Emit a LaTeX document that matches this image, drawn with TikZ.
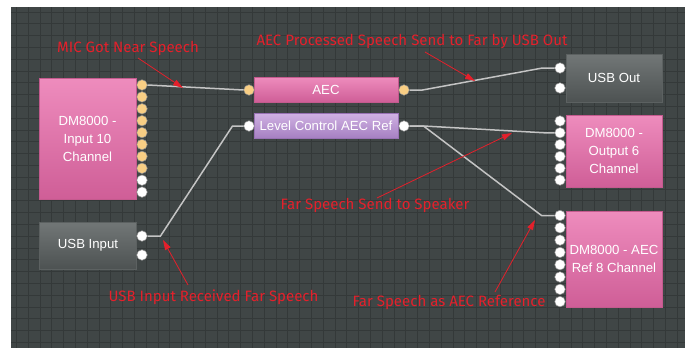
\documentclass[tikz,border=0pt]{standalone}
\usepackage{fontspec}
\setmainfont{Liberation Sans}
\newfontfamily\annfont{Fira Sans}
\usetikzlibrary{arrows.meta,calc}
\definecolor{bgdark}{HTML}{404646}
\definecolor{gridln}{HTML}{343939}
\definecolor{pinkT}{HTML}{EE8CBD}
\definecolor{pinkB}{HTML}{CF5E97}
\definecolor{pinkE}{HTML}{C45A8E}
\definecolor{purT}{HTML}{D0B2E3}
\definecolor{purB}{HTML}{A680C2}
\definecolor{purE}{HTML}{9872B4}
\definecolor{grayT}{HTML}{727777}
\definecolor{grayB}{HTML}{4D5252}
\definecolor{grayE}{HTML}{5C6161}
\definecolor{portO}{HTML}{F8CE84}
\definecolor{portE}{HTML}{8E8E8E}
\definecolor{wire}{HTML}{C4C4C4}
\definecolor{annred}{HTML}{E4202B}
\tikzset{
  blk/.style={rectangle, inner sep=0pt, text=white, align=center,
    font=\fontsize{13.2}{18}\selectfont},
  pinkblk/.style={blk, draw=pinkE, line width=0.8pt, top color=pinkT, bottom color=pinkB},
  purblk/.style={blk, draw=purE, line width=0.8pt, top color=purT, bottom color=purB},
  grayblk/.style={blk, draw=grayE, line width=0.8pt, top color=grayT, bottom color=grayB},
  portw/.style={circle, minimum size=10.5pt, inner sep=0pt, draw=portE, line width=0.5pt, fill=white},
  porto/.style={portw, fill=portO},
  wireln/.style={draw=wire, line width=1.5pt},
  ann/.style={text=annred, inner sep=0pt, font=\annfont\fontsize{15}{17}\selectfont},
  annarrow/.style={draw=annred, line width=0.8pt, -{Triangle[length=10pt,width=6pt]}}
}
\begin{document}
\begin{tikzpicture}[x=1pt,y=-1pt]
\useasboundingbox (0,0) rectangle (691,348);
\fill[white] (0,0) rectangle (691,348);
\fill[bgdark] (11,7) rectangle (685,348);
\begin{scope}
\clip (11,7) rectangle (685,348);
\foreach \i in {0,...,57} {
  \draw[gridln, line width=1pt] (16.5+11.8*\i,7) -- (16.5+11.8*\i,348);
}
\foreach \j in {0,...,29} {
  \draw[gridln, line width=1pt] (11,12+11.8*\j) -- (685,12+11.8*\j);
}
\end{scope}

% blocks
\node[pinkblk, minimum width=97pt, minimum height=121pt] (inbox) at (87.5,138.5) {DM8000 -\\Input 10\\Channel};
\node[grayblk, minimum width=97pt, minimum height=47pt] (usbin) at (88,245.5) {USB Input};
\node[pinkblk, minimum width=144pt, minimum height=25pt] (aec) at (326,89.5) {AEC};
\node[purblk, minimum width=144pt, minimum height=25pt] (lvl) at (326,125.5) {Level Control AEC Ref};
\node[grayblk, minimum width=96pt, minimum height=48pt] (usbout) at (614,78) {USB Out};
\node[pinkblk, minimum width=96pt, minimum height=72pt] (out6) at (614,151) {DM8000 -\\Output 6\\Channel};
\node[pinkblk, minimum width=96pt, minimum height=96pt] (ref8) at (614,259) {DM8000 - AEC\\Ref 8 Channel};

% ports
\foreach \i in {1,...,8} { \node[porto] (in\i) at (142,{85+11.9*(\i-1)}) {}; }
\foreach \i in {9,10} { \node[portw] (in\i) at (142,{85+11.9*(\i-1)}) {}; }
\node[portw] (ui1) at (142,236) {};
\node[portw] (ui2) at (142,255) {};
\node[porto] (aecin) at (249,90) {};
\node[porto] (aecout) at (404,90) {};
\node[portw] (lvin) at (249,126) {};
\node[portw] (lvout) at (404,126) {};
\node[portw] (uo1) at (560,68) {};
\node[portw] (uo2) at (560,88) {};
\foreach \i in {1,...,6} { \node[portw] (o\i) at (560,{121+11.8*(\i-1)}) {}; }
\foreach \i in {1,...,8} { \node[portw] (r\i) at (560,{215.5+12.3*(\i-1)}) {}; }

% wires
\draw[wireln] (in1.east) -- (aecin.west);
\draw[wireln] (aecout.east) -- ++(13,0) -- ($(uo1.west)+(-12,0)$) -- (uo1.west);
\draw[wireln] (ui1.east) -- ++(13,0) -- ($(lvin.west)+(-11,0)$) -- (lvin.west);
\draw[wireln] (lvout.east) -- ++(14,0) -- ($(o2.west)+(-10,0)$) -- (o2.west);
\draw[wireln] (lvout.east) -- ++(14,0) -- ($(r1.west)+(-13,0)$) -- (r1.west);

% annotations
\node[ann] (tmic) at (128,48) {MIC Got Near Speech};
\node[ann] (taec) at (412,41) {AEC Processed Speech Send to Far by USB Out};
\node[ann] (tspk) at (375,205) {Far Speech Send to Speaker};
\node[ann] (tusb) at (213.5,297) {USB Input Received Far Speech};
\node[ann] (tref) at (449,302) {Far Speech as AEC Reference};

\coordinate (amic) at (138,58);   \coordinate (pmic) at (183,88);
\coordinate (aaec) at (425,52);   \coordinate (paec) at (475,81);
\coordinate (aspk) at (377,198);  \coordinate (pspk) at (512,133);
\coordinate (ausb) at (188,285);  \coordinate (pusb) at (163,240);
\coordinate (aref) at (495,292);  \coordinate (pref) at (535,220);
\draw[annarrow] (amic) -- (pmic);
\draw[annarrow] (aaec) -- (paec);
\draw[annarrow] (aspk) -- (pspk);
\draw[annarrow] (ausb) -- (pusb);
\draw[annarrow] (aref) -- (pref);
\end{tikzpicture}
\end{document}
